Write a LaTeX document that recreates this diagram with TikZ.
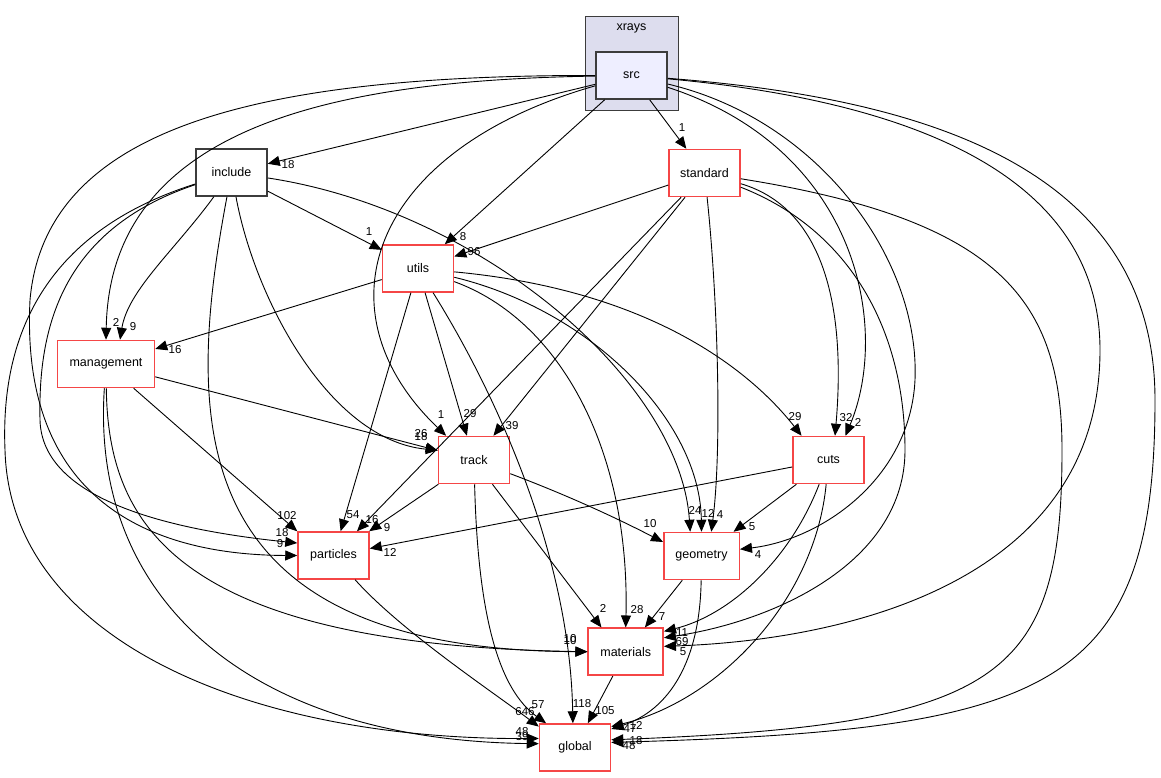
\documentclass[tikz,border=0pt]{standalone}
\usepackage{fontspec}
\setmainfont{Liberation Sans}
\usetikzlibrary{arrows.meta}
\definecolor{dirred}{RGB}{245,70,70}
\definecolor{dirgray}{RGB}{60,60,60}
\definecolor{clusterfill}{RGB}{221,221,238}
\definecolor{srcfill}{RGB}{238,238,255}

\begin{document}
\begin{tikzpicture}[x=1pt,y=-1pt,
  >={Triangle[length=12pt,width=10pt]},
  dirbox/.style={draw=dirred,line width=1.5pt,fill=white,minimum width=71pt,minimum height=47pt,inner sep=0pt,font=\fontsize{12.5}{15}\selectfont},
  plainbox/.style={dirbox,draw=dirgray},
  dep/.style={->,line width=0.9pt},
  lbl/.style={inner sep=0pt,font=\fontsize{11.5}{13}\selectfont}]
  \useasboundingbox (0,0) rectangle (1161,777);

  % cluster
  \draw[draw=dirgray,line width=1pt,fill=clusterfill] (585,16) rectangle (678,110);
  \node[lbl,font=\fontsize{12.5}{15}\selectfont] (xrays) at (631.5,28) {xrays};
  \node[plainbox,fill=srcfill,line width=1.6pt] (src) at (631.5,75.5) {src};

  % directories
  \node[plainbox] (include) at (231.5,172.5) {include};
  \node[dirbox] (standard) at (704.5,173) {standard};
  \node[dirbox] (utils) at (418,268.5) {utils};
  \node[dirbox,minimum width=97pt] (management) at (106,364) {management};
  \node[dirbox] (track) at (474,460) {track};
  \node[dirbox] (cuts) at (828.5,460) {cuts};
  \node[dirbox] (particles) at (333.5,555.5) {particles};
  \node[dirbox,minimum width=75.5pt] (geometry) at (701.5,556) {geometry};
  \node[dirbox,minimum width=75pt] (materials) at (625.7,651.7) {materials};
  \node[dirbox] (global) at (575,747.5) {global};

  % src
  \draw[dep] (src) -- (include) node[lbl] (s1) at (288,165) {18};
  \draw[dep] (src) -- (standard) node[lbl] (s2) at (682,128) {1};
  \draw[dep] (src) -- (utils) node[lbl] (s3) at (463,237) {8};
  \draw[dep] (src) .. controls (350,80) and (110,120) .. (management.north) node[lbl] (s4) at (116,322) {2};
  \draw[dep] (src) .. controls (250,75) and (45,130) .. (30,300) .. controls (20,500) and (150,555) .. (particles.west) node[lbl] (s5) at (280,544) {9};
  \draw[dep] (src) .. controls (370,150) and (315,310) .. (track.139) node[lbl] (s6) at (441,415) {1};
  \draw[dep] (src) .. controls (860,150) and (890,330) .. (cuts.55) node[lbl] (s7) at (858,422) {2};
  \draw[dep] (src) .. controls (820,120) and (920,260) .. (915,380) .. controls (910,480) and (820,540) .. (geometry.10) node[lbl] (s8) at (758,555) {4};
  \draw[dep] (src) .. controls (900,100) and (1100,170) .. (1100,350) .. controls (1100,580) and (850,640) .. (materials.8) node[lbl] (s9) at (683,652) {5};
  \draw[dep] (src) .. controls (950,100) and (1155,180) .. (1155,400) .. controls (1155,690) and (1050,730) .. (global.8) node[lbl] (s10) at (629,746) {48};

  % include
  \draw[dep] (include) .. controls (175,250) and (128,290) .. (management.60) node[lbl] (i1) at (133,327) {9};
  \draw[dep] (include) -- (utils) node[lbl] (i2) at (369,232) {1};
  \draw[dep] (include) .. controls (60,230) and (38,330) .. (40,420) .. controls (42,500) and (170,530) .. (particles.161) node[lbl] (i3) at (282,533) {18};
  \draw[dep] (include) .. controls (255,300) and (330,440) .. (track.165) node[lbl] (i4) at (421,437) {18};
  \draw[dep] (include) .. controls (480,210) and (680,380) .. (geometry.115) node[lbl] (i5) at (695,510) {24};
  \draw[dep] (include) .. controls (185,420) and (180,650) .. (materials.west) node[lbl] (i6) at (570,641) {10};
  \draw[dep] (include) .. controls (50,230) and (0,330) .. (5,450) .. controls (10,640) and (250,740) .. (global.166) node[lbl] (i7) at (522,732) {48};

  % standard
  \draw[dep] (standard) -- (utils) node[lbl] (t1) at (474,252) {96};
  \draw[dep] (standard) -- (particles) node[lbl] (t2) at (372,520) {16};
  \draw[dep] (standard) -- (track) node[lbl] (t3) at (512,426) {39};
  \draw[dep] (standard) .. controls (718,300) and (722,450) .. (geometry.68) node[lbl] (t4) at (720,515) {4};
  \draw[dep] (standard) .. controls (830,210) and (845,320) .. (cuts.75) node[lbl] (t5) at (846,418) {32};
  \draw[dep] (standard) .. controls (850,230) and (905,330) .. (905,450) .. controls (905,560) and (780,620) .. (materials.20) node[lbl] (t6) at (682,642) {69};
  \draw[dep] (standard) .. controls (1000,220) and (1062,300) .. (1062,450) .. controls (1062,680) and (1000,725) .. (global.12) node[lbl] (t7) at (636,741) {18};

  % utils
  \draw[dep] (utils) -- (management) node[lbl] (u1) at (175,350) {16};
  \draw[dep] (utils) -- (particles) node[lbl] (u2) at (353,515) {54};
  \draw[dep] (utils) -- (track) node[lbl] (u3) at (470,414) {29};
  \draw[dep] (utils) .. controls (500,400) and (570,560) .. (global.95) node[lbl] (u4) at (582,704) {118};
  \draw[dep] (utils) .. controls (560,320) and (630,450) .. (materials.north) node[lbl] (u5) at (637,610) {28};
  \draw[dep] (utils) .. controls (590,310) and (700,420) .. (geometry.north) node[lbl] (u6) at (708,513) {12};
  \draw[dep] (utils) .. controls (650,290) and (750,370) .. (cuts.138) node[lbl] (u7) at (795,417) {29};

  % management
  \draw[dep] (management) -- (track) node[lbl] (m1) at (421,434) {26};
  \draw[dep] (management) -- (particles.north west) node[lbl] (m2) at (287,516) {102};
  \draw[dep] (management) .. controls (108,520) and (170,645) .. (materials.west) node[lbl] (m3) at (570,639) {10};
  \draw[dep] (management) .. controls (90,600) and (250,740) .. (global.174) node[lbl] (m4) at (522,737) {39};

  % track
  \draw[dep] (track) -- (particles) node[lbl] (k1) at (387,528) {9};
  \draw[dep] (track) .. controls (580,500) and (630,525) .. (geometry.160) node[lbl] (k2) at (650,524) {10};
  \draw[dep] (track) -- (materials.135) node[lbl] (k3) at (603,608) {2};
  \draw[dep] (track) .. controls (478,620) and (500,690) .. (global.140) node[lbl] (k4) at (538,705) {57};

  % cuts
  \draw[dep] (cuts) -- (particles) node[lbl] (c1) at (390,552) {12};
  \draw[dep] (cuts) -- (geometry) node[lbl] (c2) at (752,527) {5};
  \draw[dep] (cuts) .. controls (790,560) and (730,615) .. (materials.28) node[lbl] (c3) at (682,633) {11};
  \draw[dep] (cuts) .. controls (815,600) and (720,700) .. (global.30) node[lbl] (c4) at (630,729) {47};

  % the rest
  \draw[dep] (particles) .. controls (400,630) and (490,690) .. (global.150) node[lbl] (p1) at (525,712) {646};
  \draw[dep] (geometry) -- (materials) node[lbl] (g1) at (662,617) {7};
  \draw[dep] (geometry) .. controls (700,660) and (670,710) .. (global.27) node[lbl] (g2) at (636,725) {12};
  \draw[dep] (materials) -- (global) node[lbl] (a1) at (605,711) {105};
\end{tikzpicture}
\end{document}
